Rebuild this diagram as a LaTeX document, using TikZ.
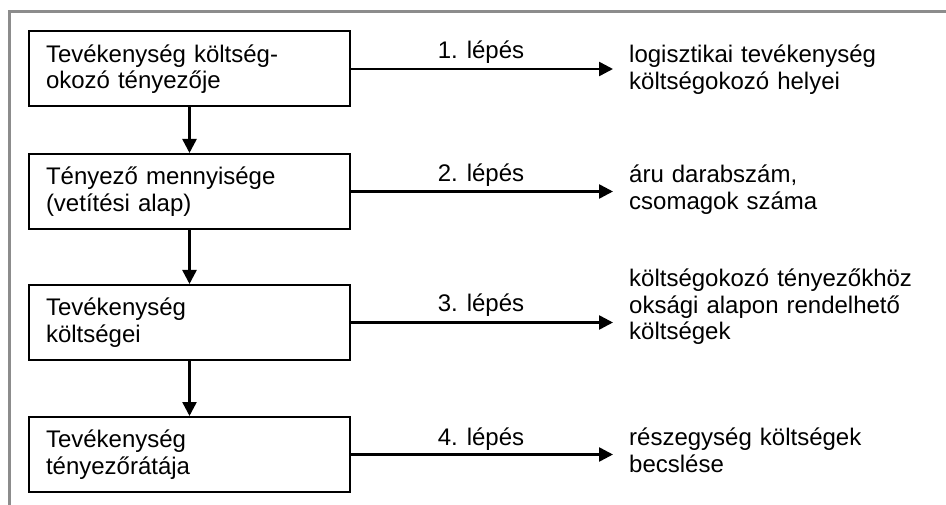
\documentclass[tikz,border=0pt]{standalone}
\usepackage{fontspec}
\setmainfont{Liberation Sans}
\usetikzlibrary{arrows.meta}
\definecolor{framegray}{RGB}{140,140,140}
\begin{document}
\begin{tikzpicture}[x=1pt,y=-1pt,
  every node/.style={font=\fontsize{24}{26.5}\selectfont},
  stepbox/.style={draw, line width=2pt, inner sep=0pt, minimum width=321pt, minimum height=75pt,
    text width=287pt, align=left, anchor=north west},
  arr/.style={line width=2.5pt, -{Triangle[length=14pt,width=14pt]}},
  lbl/.style={anchor=base, inner sep=0pt},
  rtext/.style={anchor=base west, inner sep=0pt, text width=310pt, align=left},
  frame/.style={draw=framegray, line width=3.5pt}]
\useasboundingbox (0,0) rectangle (946,505);
\draw[frame] (7.75,11.5) -- (946,11.5);
\draw[frame] (9.5,11.5) -- (9.5,505);

\node[stepbox] (b1) at (28,30.5) {Tevékenység költség-\\okozó tényezője};
\node[stepbox] (b2) at (28,153) {Tényező mennyisége\\(vetítési alap)};
\node[stepbox] (b3) at (28,284) {Tevékenység\\költségei};
\node[stepbox] (b4) at (28,416) {Tevékenység\\tényezőrátája};

\draw[arr] (b1.south) -- (b2.north);
\draw[arr] (b2.south) -- (b3.north);
\draw[arr] (b3.south) -- (b4.north);

\coordinate (e1) at (b1.east -| 613,0);
\coordinate (e2) at (b2.east -| 613,0);
\coordinate (e3) at (b3.east -| 613,0);
\coordinate (e4) at (b4.east -| 613,0);
\draw[arr] (b1.east) -- (e1);
\draw[arr] (b2.east) -- (e2);
\draw[arr] (b3.east) -- (e3);
\draw[arr] (b4.east) -- (e4);

\node[lbl] (l1) at (481,59) {1. lépés};
\node[lbl] (l2) at (481,182) {2. lépés};
\node[lbl] (l3) at (481,312) {3. lépés};
\node[lbl] (l4) at (481,445) {4. lépés};

\node[rtext] (r1) at (629,63) {logisztikai tevékenység\\költségokozó helyei};
\node[rtext] (r2) at (629,183) {áru darabszám,\\csomagok száma};
\node[rtext] (r3) at (629,287) {költségokozó tényezőkhöz\\oksági alapon rendelhető\\költségek};
\node[rtext] (r4) at (629,445.5) {részegység költségek\\becslése};
\end{tikzpicture}
\end{document}
